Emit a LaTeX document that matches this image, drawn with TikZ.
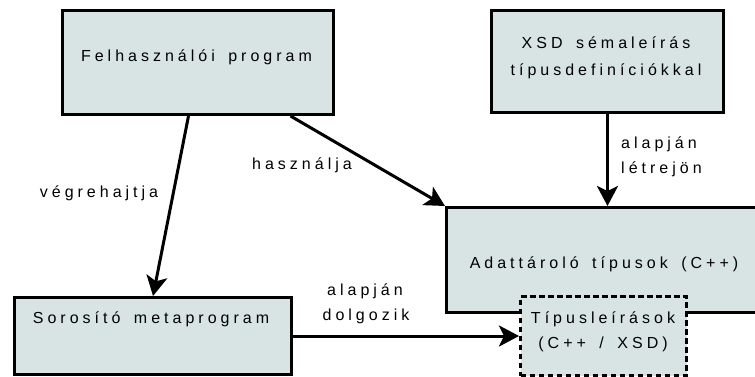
\documentclass[tikz,border=0pt]{standalone}
\usepackage{fontspec}
\setmainfont{Liberation Sans}[LetterSpace=25,WordSpace=1.6]
\usetikzlibrary{arrows.meta,calc}
\definecolor{boxfill}{RGB}{216,228,228}
\begin{document}
\begin{tikzpicture}[x=1pt,y=-1pt,
  box/.style={draw=black, fill=boxfill, line width=3pt, rectangle,
    inner sep=0pt, anchor=north west},
  dashbox/.style={box, dash pattern=on 5.5pt off 3.5pt},
  txt/.style={inner sep=0pt, font=\fontsize{16}{19}\selectfont},
  link/.style={line width=3pt, -{Stealth[length=20pt,width=21pt,inset=5pt]}}]
\useasboundingbox (0,0) rectangle (755,376);

% boxes
\node[box, minimum width=271pt, minimum height=104pt] (user) at (61,9) {};
\node[box, minimum width=232pt, minimum height=102pt] (xsd) at (490,9) {};
\node[box, minimum width=320pt, minimum height=105pt] (store) at (445,206) {};
\node[box, minimum width=277pt, minimum height=77pt] (ser) at (13,296) {};
\node[dashbox, minimum width=166pt, minimum height=79pt] (desc) at (519,295) {};

% box texts
\node[txt, anchor=base] (userT) at (196.5,61) {Felhasználói program};
\node[txt, anchor=base] (xsdT1) at (606,48) {XSD sémaleírás};
\node[txt, anchor=base] (xsdT2) at (606,75) {típusdefiníciókkal};
\node[txt, anchor=base] (storeT) at (604,268) {Adattároló típusok (C++)};
\node[txt, anchor=base] (serT) at (151,323) {Sorosító metaprogram};
\node[txt, anchor=base] (descT1) at (603,323) {Típusleírások};
\node[txt, anchor=base] (descT2) at (603,348) {(C++ / XSD)};

% connectors
\draw[link] ([xshift=-9.5pt]user.south) -- (ser.north);
\draw[link] ([xshift=92.5pt]user.south) -- (store.north west);
\draw[link] (xsd.south) -- (xsd.south |- store.north);
\draw[link] (ser.east) -- (desc.west);

% connector labels
\node[txt, anchor=base] (l1) at (99,197) {végrehajtja};
\node[txt, anchor=base] (l2) at (302,169) {használja};
\node[txt, anchor=base west] (l3a) at (621,148) {alapján};
\node[txt, anchor=base west] (l3b) at (621,173) {létrejön};
\node[txt, anchor=base] (l4a) at (365,295) {alapján};
\node[txt, anchor=base] (l4b) at (366,320) {dolgozik};
\end{tikzpicture}
\end{document}
